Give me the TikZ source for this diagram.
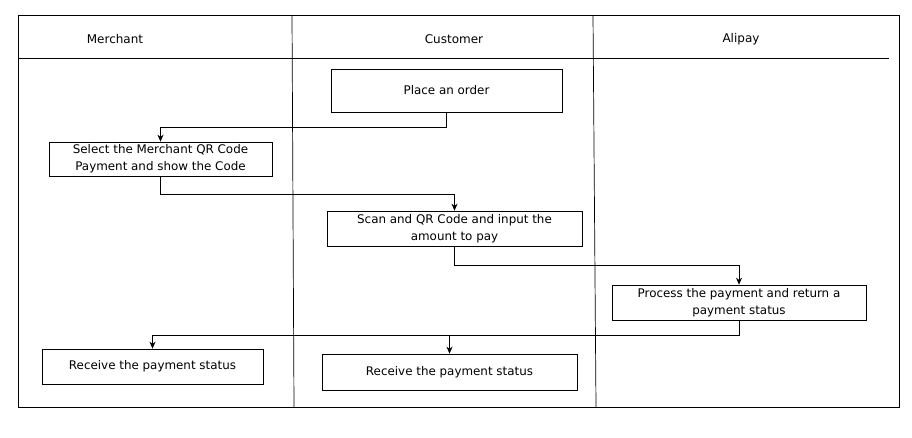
\documentclass[tikz,border=0pt]{standalone}
\usepackage{fontspec}
\setmainfont{DejaVu Sans}
\usetikzlibrary{arrows.meta}
\tikzset{
  lane/.style={font=\fontsize{12}{14}\selectfont},
  stepbox/.style={draw, align=center, inner sep=1pt, font=\fontsize{11.9}{17}\selectfont},
  flow/.style={-{Stealth[length=7pt,width=6pt]}},
}
\begin{document}
\begin{tikzpicture}[x=1pt, y=-1pt, line width=0.7pt]
    \useasboundingbox (0,0) rectangle (912,437);
    % swimlane frame
    \draw (18,15) rectangle (899,407);
    \draw (18,58) -- (889,58);
    \draw (292,15) -- (294,407);
    \draw (593,15) -- (596,407);
    \foreach \x/\who in {115/Merchant, 454/Customer, 741/Alipay}
    { \node[lane] (lane\who) at (\x,39) {\who};}
    % steps
    \node[stepbox, minimum width=231pt, minimum height=43pt] (order) at (446.5,90.5) {Place an order};
    \node[stepbox, minimum width=223pt, minimum height=34pt] (select) at (160.5,159) {Select the Merchant QR Code\\Payment and show the Code};
    \node[stepbox, minimum width=255pt, minimum height=35pt] (scan) at (454.5,228.5) {Scan and QR Code and input the\\amount to pay};
    \node[stepbox, minimum width=254pt, minimum height=35pt] (process) at (739,302.5) {Process the payment and return a\\payment status};
    \node[stepbox, minimum width=221pt, minimum height=35pt] (recvm) at (152.5,366.5) {Receive the payment status};
    \node[stepbox, minimum width=255pt, minimum height=36pt] (recvc) at (449.5,372) {Receive the payment status};
    % connectors
    \draw[flow] (order.south) -- ++(0,15) -| (select.north);
    \draw[flow] (select.south) -- ++(0,18) -| (scan.north);
    \draw[flow] (scan.south) -- ++(0,19) -| (process.north);
    \draw[flow] (process.south) -- ++(0,15) coordinate (fork) -| (recvm.north);
    \draw[flow] (fork -| recvc.north) -- (recvc.north);
\end{tikzpicture}
\end{document}
